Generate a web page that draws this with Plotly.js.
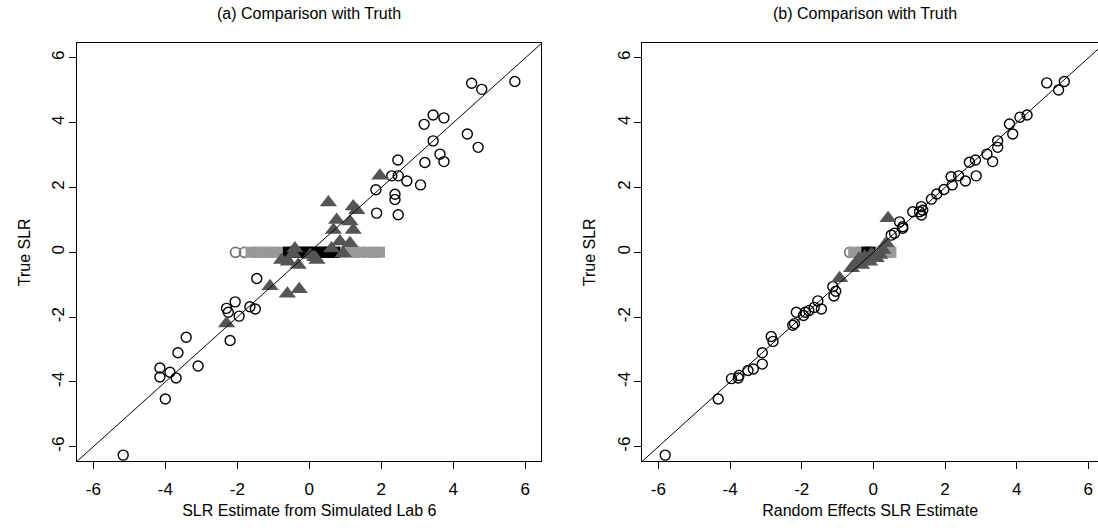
<!DOCTYPE html>
<html>
<head>
<meta charset="utf-8">
<script src="https://cdn.plot.ly/plotly-3.0.1.min.js"></script>
<style>html,body{margin:0;padding:0;background:#fff}#chart{width:1098px;height:528px}</style>
</head>
<body>
<div id="chart"></div>
<script>
// ---------- Data ----------
const tickValues = [-6, -4, -2, 0, 2, 4, 6];
const refLine = [-7, 7];

// Panel (a): SLR estimate from simulated lab 6 vs true SLR
const aCircleX = [-5.17,-4.15,-4.15,-4.0,-3.87,-3.7,-3.65,-3.42,-3.09,-2.3,-2.25,-2.2,-2.06,-1.95,-1.65,-1.5,-1.46,1.85,1.87,2.38,2.38,2.47,2.29,2.46,2.47,2.71,3.09,3.19,3.21,3.44,3.44,3.63,3.74,3.74,4.39,4.51,4.69,4.79,5.71];
const aCircleY = [-6.26,-3.57,-3.85,-4.53,-3.7,-3.88,-3.1,-2.62,-3.51,-1.73,-1.85,-2.72,-1.53,-1.97,-1.68,-1.75,-0.81,1.93,1.21,1.79,1.63,1.16,2.36,2.85,2.36,2.2,2.08,3.95,2.77,3.44,4.24,3.03,2.8,4.15,3.65,5.22,3.24,5.03,5.27];
const aTriX = [-2.3,-1.09,-0.61,-0.28,-0.58,-0.31,-0.4,0.03,0.21,0.62,0.94,0.85,1.13,0.67,1.22,0.76,1.13,0.53,1.22,1.32,1.96,-0.77,0.15,-0.45];
const aTriY = [-2.2,-1.05,-1.28,-1.14,-0.29,-0.39,0.12,-0.08,-0.24,0.12,-0.03,0.33,0.28,0.69,0.69,1.0,0.95,1.54,1.41,1.3,2.36,-0.24,-0.15,-0.05];
const aZeroCircleX = [-2.05,-1.8];
const aZeroGrayX = [-1.62,-1.48,-1.33,-1.2,-1.05,-0.9,-0.76,-0.6,-0.45,-0.3,-0.12,0.05,0.22,0.4,0.58,0.75,0.92,1.08,1.25,1.42,1.6,1.78,1.95];
const aZeroBlackX = [-0.58,-0.45,-0.3,-0.15,0.0,0.15,0.3,0.45,0.58,0.7];

// Panel (b): random effects SLR estimate vs true SLR
const bCircleX = [4.84,5.33,5.17,4.29,4.09,3.8,3.89,3.47,3.47,3.17,3.33,2.85,2.68,2.87,2.57,2.38,2.17,2.2,1.97,1.77,1.62,1.34,1.29,1.1,1.34,1.38,0.73,0.82,0.82,0.59,0.5,-1.13,-1.05,-1.1,-1.45,-1.55,-1.65,-1.8,-1.9,-1.95,-2.15,-2.2,-2.25,-2.8,-2.85,-3.1,-3.1,-3.35,-3.5,-3.75,-3.96,-3.77,-4.33,-5.81];
const bCircleY = [5.23,5.27,5.01,4.24,4.17,3.96,3.65,3.44,3.24,3.03,2.8,2.85,2.78,2.36,2.2,2.36,2.33,2.08,1.94,1.8,1.64,1.41,1.25,1.25,1.15,1.3,0.94,0.79,0.74,0.59,0.53,-1.06,-1.2,-1.35,-1.75,-1.5,-1.7,-1.8,-1.85,-1.95,-1.85,-2.2,-2.25,-2.75,-2.6,-3.1,-3.45,-3.6,-3.65,-3.8,-3.9,-3.88,-4.53,-6.26];
const bTriX = [0.41,-0.24,-0.47,-0.1,0.18,0.36,0.27,-0.61,0.08,-0.94,-0.33,-0.05,-0.4];
const bTriY = [1.05,-0.14,-0.34,-0.29,-0.08,0.28,0.07,-0.49,-0.18,-0.8,-0.39,-0.05,-0.2];
const bZeroCircleX = [-0.66];
const bZeroGrayX = [-0.55,-0.42,-0.3,-0.18,-0.05,0.08,0.2,0.32,0.42,0.49];
const bZeroBlackX = [-0.18,-0.1];

// ---------- Styles ----------
const FONT = 'Liberation Sans, Arial, Helvetica, sans-serif';
const circleOpen = {symbol:'circle-open', size:10, color:'#000', line:{width:1.4, color:'#000'}};
const grayCircleOpen = {symbol:'circle-open', size:10, color:'#777', line:{width:1.8, color:'#777'}};
const triMarker = {symbol:'triangle-up', size:15, color:'#555555'};
const graySq = {symbol:'square', size:11, color:'#999999'};
const blackSq = {symbol:'square', size:11, color:'#000000'};
const zeros = a => a.map(() => 0);

function panel(xa, ya, cx, cy, tx, ty, zc, zg, zb) {
  const base = {type:'scatter', mode:'markers', xaxis:xa, yaxis:ya, showlegend:false, hoverinfo:'skip', cliponaxis:true};
  return [
    Object.assign({}, base, {x:zc, y:zeros(zc), marker:grayCircleOpen}),
    Object.assign({}, base, {x:zg, y:zeros(zg), marker:graySq}),
    Object.assign({}, base, {x:zb, y:zeros(zb), marker:blackSq}),
    Object.assign({}, base, {x:cx, y:cy, marker:circleOpen}),
    Object.assign({}, base, {x:tx, y:ty, marker:triMarker}),
    Object.assign({}, base, {mode:'lines', x:refLine, y:refLine, line:{color:'#000', width:1}})
  ];
}

const data = [].concat(
  panel('x','y', aCircleX, aCircleY, aTriX, aTriY, aZeroCircleX, aZeroGrayX, aZeroBlackX),
  panel('x2','y2', bCircleX, bCircleY, bTriX, bTriY, bZeroCircleX, bZeroGrayX, bZeroBlackX)
);

function axis(extra) {
  return Object.assign({
    showgrid:false, zeroline:false, showline:true, linecolor:'#000', linewidth:1,
    mirror:true, ticks:'outside', ticklen:7, tickwidth:1, tickcolor:'#000',
    tickvals:tickValues, ticktext:tickValues.map(String),
    tickfont:{family:FONT, size:17, color:'#000'}, automargin:false, fixedrange:true
  }, extra);
}
const titleFont = {family:FONT, size:16, color:'#000'};

const layout = {
  width:1098, height:528,
  margin:{l:0, r:0, t:0, b:0},
  paper_bgcolor:'#fff', plot_bgcolor:'#fff',
  showlegend:false,
  xaxis: axis({domain:[0.0703, 0.4931], range:[-6.448, 6.448], anchor:'y', ticklabelstandoff:5,
    title:{text:'SLR Estimate from Simulated Lab 6', font:titleFont, standoff:7}}),
  yaxis: axis({domain:[0.1265, 0.9178], range:[-6.448, 6.448], anchor:'x', tickangle:-90, ticklabelstandoff:-2,
    title:{text:'True SLR', font:titleFont, standoff:14}}),
  xaxis2: axis({domain:[0.585, 1.0], range:[-6.448, 6.27], anchor:'y2', ticklabelstandoff:5,
    title:{text:'Random Effects SLR Estimate', font:titleFont, standoff:7}}),
  yaxis2: axis({domain:[0.1265, 0.9178], range:[-6.448, 6.448], anchor:'x2', mirror:false, tickangle:-90, ticklabelstandoff:-2,
    title:{text:'True SLR', font:titleFont, standoff:14}}),
  annotations:[
    {text:'(a) Comparison with Truth', xref:'paper', yref:'paper', x:0.2817, y:1-14/528, xanchor:'center', yanchor:'middle', showarrow:false, font:titleFont},
    {text:'(b) Comparison with Truth', xref:'paper', yref:'paper', x:0.788, y:1-14/528, xanchor:'center', yanchor:'middle', showarrow:false, font:titleFont}
  ]
};

Plotly.newPlot('chart', data, layout, {staticPlot:true, displayModeBar:false});
</script>
</body>
</html>
